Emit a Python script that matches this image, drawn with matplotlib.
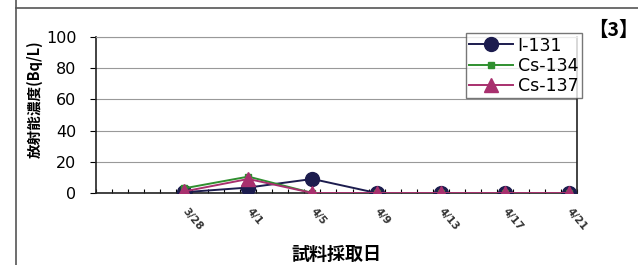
import numpy as np
import matplotlib.pyplot as plt
from matplotlib.lines import Line2D

plt.rcParams['font.family'] = ['Noto Sans CJK JP', 'DejaVu Sans']

# category axis: 3/23 .. 4/21 (one category per day)
days = ['3/%d' % d for d in range(23, 32)] + ['4/%d' % d for d in range(1, 22)]
sample_days = ['3/28', '4/1', '4/5', '4/9', '4/13', '4/17', '4/21']
i131 = [0.5, 3.5, 9, 0, 0, 0, 0]
cs134 = [3, 10.5, 0, 0, 0, 0, 0]
cs137 = [1, 9, 0, 0, 0, 0, 0]

x = [days.index(d) for d in sample_days]

fig = plt.figure(figsize=(6.38, 2.65), dpi=100)
ax = fig.add_axes([96/638, 1-193/265, 481/638, 156/265])

ax.plot(x, i131, color='#1c1c4e', marker='o', ms=10, lw=1.4, label='I-131', zorder=3)
ax.plot(x, cs134, color='#2f8f2f', marker='s', ms=4, lw=1.4, label='Cs-134', zorder=4)
ax.plot(x, cs137, color='#a8306e', marker='^', ms=10, lw=1.4, label='Cs-137', zorder=5)

ax.set_xlim(-0.5, len(days) - 0.5)
ax.set_ylim(0, 100)
ax.set_yticks(np.arange(0, 101, 20))
ax.tick_params(axis='y', length=4, direction='out', pad=10)
for t in ax.get_yticklabels():
    t.set_fontfamily('DejaVu Sans')
    t.set_fontsize(11.5)
ax.set_xticks(x)
ax.set_xticklabels(sample_days, rotation=-50, ha='left', va='center',
                   rotation_mode='anchor', fontsize=7.5, fontweight='bold',
                   family='DejaVu Sans', color='#333333')
ax.tick_params(axis='x', length=0, pad=12)
ax.set_xticks(np.arange(-0.5, len(days), 1), minor=True)
ax.tick_params(axis='x', which='minor', length=3, direction='in', width=0.8)
ax.yaxis.grid(True, color='#999999', lw=0.8)
ax.set_axisbelow(True)
ax.spines['top'].set_color('#999999')
for s in ['left', 'bottom', 'right']:
    ax.spines[s].set_color('#222222')
    ax.spines[s].set_linewidth(1.2)

ax.set_ylabel('放射能濃度(Bq/L)', fontsize=10.5, fontweight='bold')
ax.yaxis.set_label_coords(-0.11, 0.6)
ax.set_xlabel('試料採取日', fontsize=13, fontweight='bold', labelpad=9)

leg = ax.legend(loc='upper right', bbox_to_anchor=(1.01, 1.025),
                prop={'family': 'DejaVu Sans', 'size': 12.5},
                frameon=True, fancybox=False, borderpad=0.2, labelspacing=0.12,
                handlelength=2.5, handletextpad=0.3, borderaxespad=0)
leg.get_frame().set_edgecolor('#555555')
leg.get_frame().set_linewidth(1.0)

fig.text(588/638, 1-30/265, '【3】', fontsize=14, fontweight='bold', va='center', ha='left')

fig.add_artist(Line2D([16/638, 1], [1-8/265, 1-8/265], color='#555555', lw=1.2))
fig.add_artist(Line2D([16/638, 16/638], [0, 1], color='#555555', lw=1.2))

fig.savefig('out.png', dpi=100)
